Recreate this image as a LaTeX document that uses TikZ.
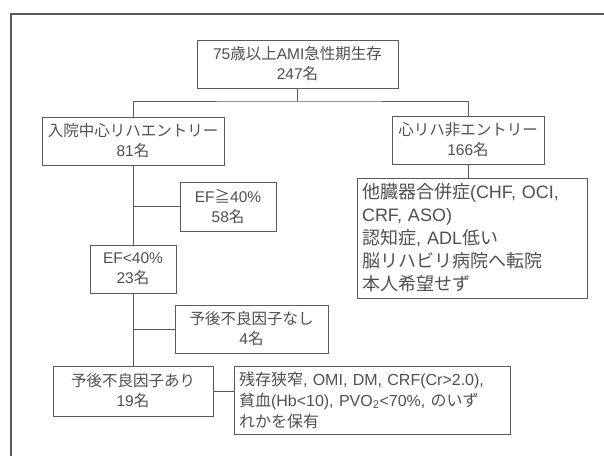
\documentclass[tikz,border=0pt]{standalone}
\usepackage{fontspec}
\setmainfont{Noto Sans CJK JP}
\newfontfamily\arialf{Liberation Sans}
\newcommand\arl[1]{{\arialf #1}}
\definecolor{linec}{HTML}{5A5A5A}
\definecolor{txtc}{HTML}{505050}
\begin{document}
\begin{tikzpicture}[x=1pt,y=-1pt,
  box/.style={draw=linec, line width=1pt, rectangle, inner sep=0pt, align=center,
    text=txtc, font=\fontsize{15.5}{20}\selectfont},
  listbox/.style={draw=linec, line width=1pt, rectangle, inner ysep=0pt, inner xsep=5pt,
    align=left, text=txtc},
  ln/.style={draw=linec, line width=1pt}]
\useasboundingbox[fill=white] (0,0) rectangle (604,456);
% partial outer frame
\coordinate (fr) at (604,14);
\coordinate (fc) at (11,14);
\coordinate (fb) at (11,456);
\draw[ln, line width=1.2pt] (fr) -- (fc) -- (fb);
% boxes
\node[box, minimum width=201pt, minimum height=48pt] (top) at (297.5,64) {\arl{75}歳以上\arl{AMI}急性期生存\\\arl{247}名};
\node[box, minimum width=182pt, minimum height=48pt] (entry) at (133,141) {入院中心リハエントリー\\\arl{81}名};
\node[box, minimum width=152pt, minimum height=48pt] (nonentry) at (468,140) {心リハ非エントリー\\\arl{166}名};
\node[listbox, text width=220pt, minimum height=120pt, font=\fontsize{18}{23}\selectfont] (reasons) at (472,238)
  {他臓器合併症\arl{(CHF, OCI,}\\\arl{CRF, ASO)}\\認知症\arl{, ADL}低い\\脳リハビリ病院へ転院\\本人希望せず};
\node[box, minimum width=96pt, minimum height=49pt] (efhigh) at (228,206.5) {\arl{EF}≧\arl{40\%}\\\arl{58}名};
\node[box, minimum width=86pt, minimum height=48pt] (eflow) at (133,269) {\arl{EF<40\%}\\\arl{23}名};
\node[box, minimum width=153pt, minimum height=48pt] (none) at (251.5,329) {予後不良因子なし\\\arl{4}名};
\node[box, minimum width=160pt, minimum height=50pt] (yes) at (133,391) {予後不良因子あり\\\arl{19}名};
\node[listbox, text width=266pt, minimum height=68pt, font=\fontsize{16}{21}\selectfont] (factors) at (372,400)
  {残存狭窄\arl{, OMI, DM, CRF(Cr>2.0),}\\貧血\arl{(Hb<10), PVO\textsubscript{2}<70\%, }のいず\\れかを保有};
% connectors
\coordinate (j) at (297.5,101);
\draw[ln] (top.south) -- (j);
\draw[ln] (entry.north) |- (j) -| (nonentry.north);
\draw[ln] (nonentry.south) -- (nonentry.south |- reasons.north);
\draw[ln] (entry.south) -- (eflow.north);
\draw[ln] (efhigh.west) -- (efhigh.west -| entry.south);
\draw[ln] (eflow.south) -- (yes.north);
\draw[ln] (none.west) -- (none.west -| eflow.south);
\draw[ln] (yes.east) -- (yes.east -| factors.west);
\end{tikzpicture}
\end{document}
